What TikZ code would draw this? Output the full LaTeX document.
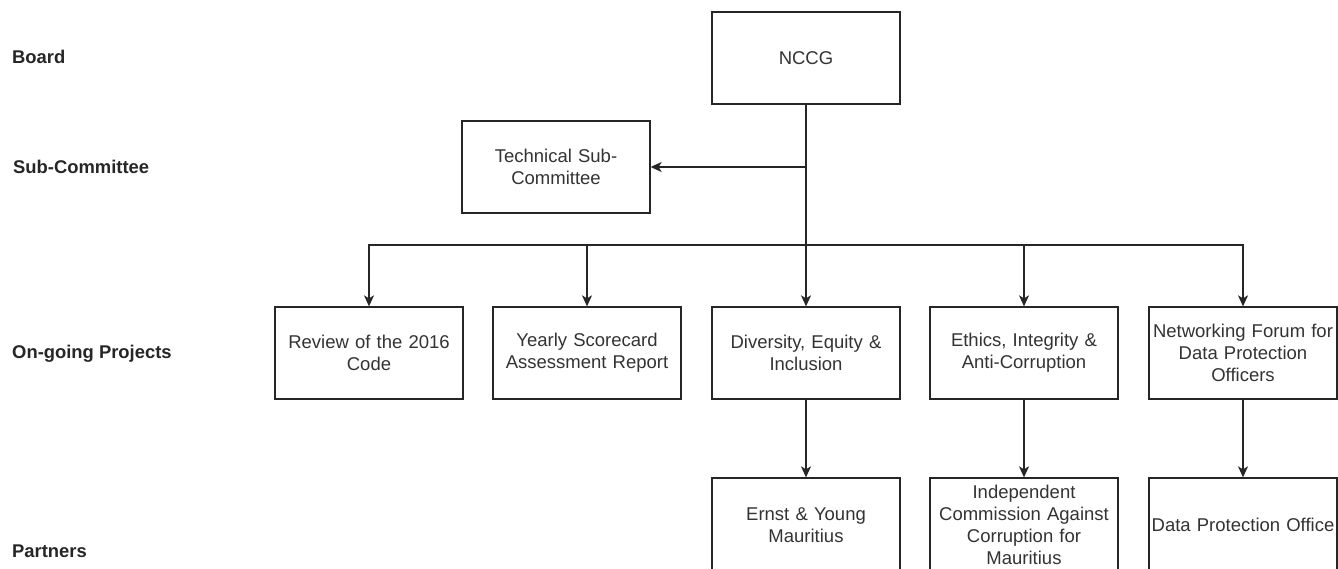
\documentclass[tikz,border=0pt]{standalone}
\usepackage{fontspec}
\setmainfont{Liberation Sans}
\usetikzlibrary{arrows.meta}
\tikzset{
  box/.style={draw=black!85, line width=1.3pt, minimum width=188pt, minimum height=92pt,
    text width=184pt, align=center, inner sep=2pt, text=black!80,
    font=\fontsize{18.5}{22}\selectfont},
  pbox/.style={box, minimum height=94pt},
  lvl/.style={anchor=west, inner sep=0pt, font=\fontsize{18.4}{22}\selectfont\bfseries, text=black!85},
  arr/.style={draw=black!85, line width=1.3pt, -{Stealth[length=11pt,width=10pt,inset=3pt]}},
  ln/.style={draw=black!85, line width=1.3pt}
}
\begin{document}
\begin{tikzpicture}[x=1pt,y=-1pt]
\path[use as bounding box, clip] (0,0) rectangle (1338,569);
\fill[white] (0,0) rectangle (1338,569);
% level labels
\node[lvl] (lboard) at (12,57) {Board};
\node[lvl] (lsub) at (13,167) {Sub-Committee};
\node[lvl] (lproj) at (12,354) {On-going Projects};
\node[lvl] (lpart) at (12,551) {Partners};
% boxes
\node[box] (nccg) at (806,58) {NCCG};
\node[box] (tech) at (556,167) {Technical Sub-\\Committee};
\node[box] (rev) at (369,353) {Review of the 2016\\Code};
\node[box] (year) at (587,353) {Yearly Scorecard\\Assessment Report};
\node[box] (div) at (806,353) {Diversity, Equity \&\\Inclusion};
\node[box] (eth) at (1024,353) {Ethics, Integrity \&\\Anti-Corruption};
\node[box] (net) at (1243,353) {Networking Forum for\\Data Protection\\Officers};
\node[pbox] (ey) at (806,525) {Ernst \& Young\\Mauritius};
\node[pbox] (icac) at (1024,525) {Independent\\Commission Against\\Corruption for\\Mauritius};
\node[pbox] (dpo) at (1243,525) {Data Protection Office};
% connectors
\coordinate (split) at (806,167);
\coordinate (bus) at (806,245);
\draw[arr] (nccg.south) -- (div.north);
\draw[arr] (split) -- (tech.east);
\draw[arr] (bus) -| (rev.north);
\draw[arr] (bus) -| (year.north);
\draw[arr] (bus) -| (eth.north);
\draw[arr] (bus) -| (net.north);
\draw[arr] (div.south) -- (ey.north);
\draw[arr] (eth.south) -- (icac.north);
\draw[arr] (net.south) -- (dpo.north);
\end{tikzpicture}
\end{document}
